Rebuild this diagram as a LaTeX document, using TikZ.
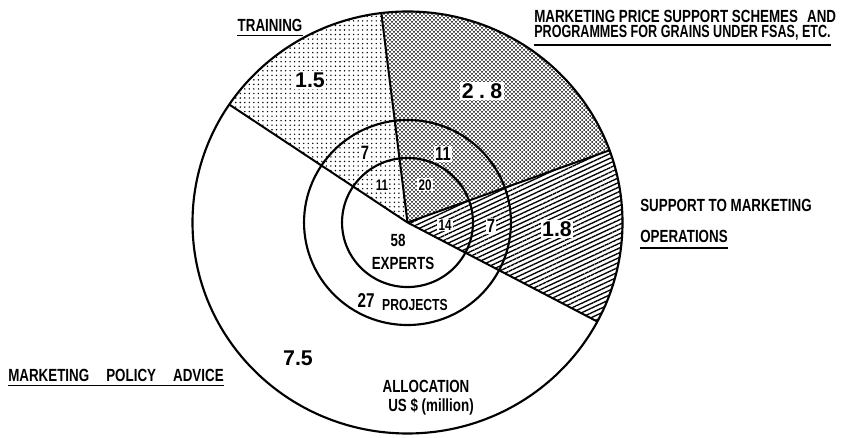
\documentclass[tikz,border=0pt]{standalone}
\usepackage{fontspec}
\setmainfont{Liberation Sans}
\newfontfamily\labf[FakeStretch=0.76]{Liberation Sans}
\newfontfamily\labg[FakeStretch=0.715]{Liberation Sans}
\usetikzlibrary{patterns,patterns.meta,calc}
\pgfdeclarepatternformonly{bigcrossdots}{\pgfqpoint{-1pt}{-1pt}}{\pgfqpoint{5pt}{5pt}}{\pgfqpoint{3pt}{3pt}}{%
  \pgfpathcircle{\pgfqpoint{0pt}{0pt}}{.75pt}%
  \pgfpathcircle{\pgfqpoint{1.5pt}{1.5pt}}{.75pt}%
  \pgfusepath{fill}}
\pgfdeclarepatternformonly{lightdots}{\pgfqpoint{-1pt}{-1pt}}{\pgfqpoint{1pt}{1pt}}{\pgfqpoint{3.4pt}{3.4pt}}{%
  \pgfpathcircle{\pgfqpoint{0pt}{0pt}}{.6pt}%
  \pgfusepath{fill}}
\tikzset{
  ring/.style={line width=1.6pt},
  radial/.style={line width=1.5pt},
  outerarc/.style={x radius=161.25pt, y radius=158.25pt},
  lab/.style={inner sep=0pt, font=\labf\bfseries\fontsize{13.2}{15}\selectfont},
  big/.style={fill=white, inner sep=1.2pt, font=\bfseries\fontsize{16}{18}\selectfont},
  cnt/.style={fill=white, inner sep=1pt, font=\labf\bfseries\fontsize{14.5}{16}\selectfont},
  small/.style={fill=white, inner sep=0.8pt, font=\labf\bfseries\fontsize{11.5}{13}\selectfont},
  uline/.style={line width=1.3pt}
}
\begin{document}
\begin{tikzpicture}[x=0.75pt,y=0.75pt]
\useasboundingbox (0,0) rectangle (842,438);
\coordinate (C) at (407.5,215.5);
% radial end points on the outer ring
\coordinate (p1) at ($(C)+(146:161.25pt and 158.25pt)$);
\coordinate (p2) at ($(C)+(97:161.25pt and 158.25pt)$);
\coordinate (p3) at ($(C)+(20:161.25pt and 158.25pt)$);
\coordinate (p4) at ($(C)+(-28:161.25pt and 158.25pt)$);
% sectors
\fill[pattern=lightdots] (C) -- (p1) arc[start angle=146,end angle=97,outerarc] -- cycle;
\fill[pattern=bigcrossdots] (C) -- (p2) arc[start angle=97,end angle=20,outerarc] -- cycle;
\fill[pattern={Lines[angle=25,distance=3.2pt,line width=1pt]}] (C) -- (p3) arc[start angle=20,end angle=-28,outerarc] -- cycle;
% radial lines
\draw[radial] (C) -- (p1);
\draw[radial] (C) -- (p2);
\draw[radial] (C) -- (p3);
\draw[radial] (C) -- (p4);
% rings
\draw[ring] (C) ellipse [x radius=161.25pt, y radius=158.25pt];
\draw[ring] (C) ellipse [x radius=77.6pt, y radius=76.9pt];
\draw[ring] (C) ellipse [x radius=49.1pt, y radius=48.4pt];
% values
\node[big] (v15) at (310,358) {1.5};
\node[big] (v28) at (482,347) {2\hspace{4pt}.\hspace{4pt}8};
\node[big] (v18) at (557,209) {1.8};
\node[big, fill=none] (v75) at (298,80) {7.5};
\node[cnt] (pt7) at (365,285) {7};
\node[cnt] (pp11) at (443,284) {11};
\node[cnt] (ps7) at (491,212) {7};
\node[small] (et11) at (382,253) {11};
\node[small] (ep20) at (425,253) {20};
\node[small] (es14) at (445,213) {14};
\node[lab] (e58) at (398,198) {58};
\node[lab] (eexp) at (403,175) {EXPERTS};
\node[lab, font=\labf\bfseries\fontsize{15}{17}\selectfont] (p27) at (366,137) {27};
\node[lab, font=\labf\bfseries\fontsize{12}{14}\selectfont] (pproj) at (415,133) {PROJECTS};
\node[lab] (alloc) at (426,52) {ALLOCATION};
\node[lab] (usd) at (431,31) {US \$ (million)};
% category labels
\node[lab] (train) at (270,413) {TRAINING};
\draw[uline] ([yshift=-3pt]train.south west) -- ([yshift=-3pt]train.south east);
\node[lab, anchor=west] (mp1) at (534,422) {MARKETING PRICE SUPPORT SCHEMES\hspace{4pt} AND};
\node[lab, font=\labg\bfseries\fontsize{13.2}{15}\selectfont, anchor=west] (mp2) at (534,405) {PROGRAMMES FOR GRAINS UNDER FSAS, ETC.};
\draw[uline] ([yshift=-3pt]mp2.south west) -- ([yshift=-3pt]mp2.south east);
\node[lab, anchor=west] (so1) at (640,233) {SUPPORT TO MARKETING};
\node[lab, anchor=west] (so2) at (640,202) {OPERATIONS};
\draw[uline] ([yshift=-4pt]so2.south west) -- ([yshift=-4pt]so2.south east);
\node[lab, anchor=west] (adv) at (8,63) {MARKETING\hspace{10pt} POLICY\hspace{10pt} ADVICE};
\draw[uline] ([yshift=-3pt]adv.south west) -- ([yshift=-3pt]adv.south east);
\end{tikzpicture}
\end{document}
